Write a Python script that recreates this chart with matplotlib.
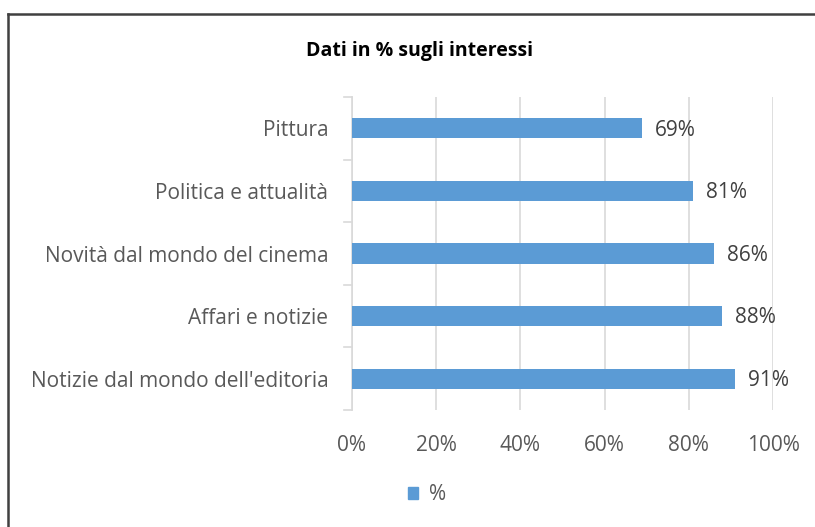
import matplotlib.pyplot as plt
from matplotlib.lines import Line2D
from matplotlib.patches import Patch

categories = ['Notizie dal mondo dell\'editoria', 'Affari e notizie',
              'Novità dal mondo del cinema', 'Politica e attualità', 'Pittura']
values = [91, 88, 86, 81, 69]
xticks = [0, 20, 40, 60, 80, 100]
title = 'Dati in % sugli interessi'
series_name = '%'

plt.rcParams['font.family'] = ['Open Sans', 'DejaVu Sans']
bar_color = '#5B9BD5'
text_color = '#595959'
grid_color = '#D9D9D9'
fs = 15

fig = plt.figure(figsize=(8.15, 5.27), dpi=100)
ax = fig.add_axes([352 / 815, 1 - 410 / 527, 421 / 815, 313 / 527])

pos = list(range(len(categories)))
ax.barh(pos, values, height=0.32, color=bar_color, zorder=3)
for p, v in zip(pos, values):
    ax.text(v + 3, p - 0.03, '%d%%' % v, va='center', ha='left',
            fontsize=fs, color='#404040')

ax.set_xlim(0, 100)
ax.set_ylim(-0.5, len(categories) - 0.5)
ax.set_xticks(xticks)
ax.set_xticklabels(['%d%%' % t for t in xticks], fontsize=fs, color=text_color)
ax.set_yticks(pos)
ax.set_yticklabels(categories, fontsize=fs, color=text_color)
ax.tick_params(axis='y', length=0, pad=17)
ax.tick_params(axis='x', length=0, pad=18)
ax.grid(axis='x', color=grid_color, linewidth=1.2, zorder=0)
for s in ['top', 'right', 'bottom']:
    ax.spines[s].set_visible(False)
ax.spines['left'].set_color(grid_color)
ax.spines['left'].set_linewidth(1.2)

# small ticks between categories on the left
for b in [i - 0.5 for i in range(len(categories) + 1)]:
    ax.plot([-1.9, 0], [b, b], color=grid_color, linewidth=1.2,
            clip_on=False, zorder=1)

fig.text(420 / 815, 1 - 51 / 527, title, ha='center', va='center',
         fontsize=14, fontweight='bold', color='black')

handles = [Patch(color=bar_color, label=series_name)]
fig.legend(handles=handles, loc='center', bbox_to_anchor=(427 / 815, 1 - 495 / 527),
           frameon=False, fontsize=fs, handlelength=0.5, handleheight=0.5,
           handletextpad=0.5, labelcolor=text_color)

# outer frame of the chart area
fig.add_artist(Line2D([8 / 815, 1], [1 - 14 / 527, 1 - 14 / 527],
                      transform=fig.transFigure, color='#404040', linewidth=1.8))
fig.add_artist(Line2D([8 / 815, 8 / 815], [0, 1 - 14 / 527],
                      transform=fig.transFigure, color='#404040', linewidth=1.8))

fig.savefig('out.png', dpi=100)
